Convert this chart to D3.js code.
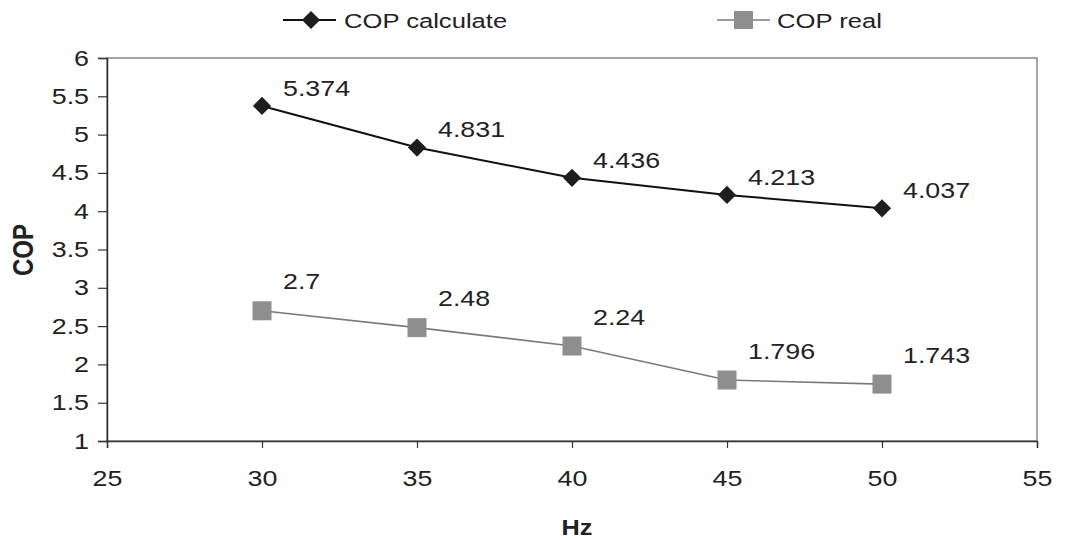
<!DOCTYPE html>
<html><head><meta charset="utf-8">
<script src="https://cdn.jsdelivr.net/npm/d3@7"></script>
<style>body{margin:0;background:#fff}svg{display:block;font-family:"Liberation Sans",Arial,sans-serif}</style>
</head><body><svg id="c" width="1080" height="540"></svg>
<script>
const hz = [30, 35, 40, 45, 50];
const copCalc = [5.374, 4.831, 4.436, 4.213, 4.037];
const copReal = [2.7, 2.48, 2.24, 1.796, 1.743];
const calcLabels = ["5.374", "4.831", "4.436", "4.213", "4.037"];
const realLabels = ["2.7", "2.48", "2.24", "1.796", "1.743"];
const xTicks = [25, 30, 35, 40, 45, 50, 55];
const yTicks = [1, 1.5, 2, 2.5, 3, 3.5, 4, 4.5, 5, 5.5, 6];
const seriesNames = ["COP calculate", "COP real"];

const S = 1.22; // horizontal text stretch seen in the reference
const svg = d3.select("#c");
const L = 107, R = 1037, T = 58, B = 441;
const x = d3.scaleLinear().domain([25, 55]).range([L, R]);
const y = d3.scaleLinear().domain([1, 6]).range([B, T]);

function stretchedText(g, tx, ty, str, opts) {
  const t = g.append("text")
    .attr("transform", `translate(${tx},${ty}) scale(${opts.sx || S},1)`)
    .attr("font-size", opts.size || 22).attr("fill", "#222")
    .attr("text-anchor", opts.anchor || "start")
    .attr("dy", opts.dy || "0.35em").text(str);
  if (opts.bold) t.attr("font-weight", "bold");
  return t;
}

// frame
svg.append("rect").attr("x", L).attr("y", T).attr("width", R - L).attr("height", B - T)
  .attr("fill", "none").attr("stroke", "#8a8a8a").attr("stroke-width", 1.5);

const ya = svg.append("g").attr("transform", `translate(${L},0)`)
  .call(d3.axisLeft(y).tickValues(yTicks).tickSize(9).tickPadding(9).tickFormat(d3.format("~g")));
const xa = svg.append("g").attr("transform", `translate(0,${B})`)
  .call(d3.axisBottom(x).tickValues(xTicks).tickSize(7).tickPadding(22).tickFormat(d3.format("d")));
[ya, xa].forEach(a => {
  a.selectAll("path").attr("stroke", "#333").attr("stroke-width", 1.5);
  a.selectAll("line").attr("stroke", "#333").attr("stroke-width", 1.2);
  a.selectAll("text").attr("font-size", 22).attr("fill", "#222")
    .attr("font-family", "Liberation Sans, Arial, sans-serif");
});
ya.selectAll("text").attr("x", -18 / S).attr("transform", `scale(${S},1)`);
xa.selectAll("text").attr("transform", `scale(${S},1)`);

// axis titles
svg.append("text").attr("transform", `translate(23,250) rotate(-90) scale(1,1.2)`)
  .attr("text-anchor", "middle").attr("dy", "0.35em")
  .attr("font-size", 24).attr("font-weight", "bold").attr("fill", "#222").text("COP");
stretchedText(svg, 577, 535, "Hz", {anchor: "middle", bold: true, size: 22, dy: "0", sx: 1.15});

const line = d3.line().x(d => x(d[0])).y(d => y(d[1]));
const calcPts = hz.map((h, i) => [h, copCalc[i]]);
const realPts = hz.map((h, i) => [h, copReal[i]]);

svg.append("path").datum(calcPts).attr("d", line).attr("fill", "none").attr("stroke", "#111").attr("stroke-width", 2);
svg.append("path").datum(realPts).attr("d", line).attr("fill", "none").attr("stroke", "#7a7a7a").attr("stroke-width", 1.6);

const diamond = d3.symbol().type(d3.symbolSquare).size(165);
svg.selectAll(".dm").data(calcPts).join("path")
  .attr("d", diamond).attr("transform", d => `translate(${x(d[0])},${y(d[1])}) rotate(45)`)
  .attr("fill", "#1e1e1e");
svg.selectAll(".sq").data(realPts).join("rect")
  .attr("x", d => x(d[0]) - 9.5).attr("y", d => y(d[1]) - 9.5).attr("width", 19).attr("height", 19)
  .attr("fill", "#8e8e8e");

calcPts.forEach((d, i) => stretchedText(svg, x(d[0]) + 21, y(d[1]) - 18, calcLabels[i], {}));
realPts.forEach((d, i) => stretchedText(svg, x(d[0]) + 21, y(d[1]) - 29, realLabels[i], {}));

// legend
const lg = svg.append("g");
lg.append("line").attr("x1", 283).attr("x2", 336).attr("y1", 20).attr("y2", 20).attr("stroke", "#111").attr("stroke-width", 2);
lg.append("path").attr("d", diamond).attr("transform", "translate(311,20) rotate(45)").attr("fill", "#1e1e1e");
stretchedText(lg, 344, 21, seriesNames[0], {size: 21});
lg.append("line").attr("x1", 717).attr("x2", 770).attr("y1", 20).attr("y2", 20).attr("stroke", "#7a7a7a").attr("stroke-width", 1.6);
lg.append("rect").attr("x", 734).attr("y", 11).attr("width", 19).attr("height", 18).attr("fill", "#8e8e8e");
stretchedText(lg, 777, 21, seriesNames[1], {size: 21});
</script></body></html>
